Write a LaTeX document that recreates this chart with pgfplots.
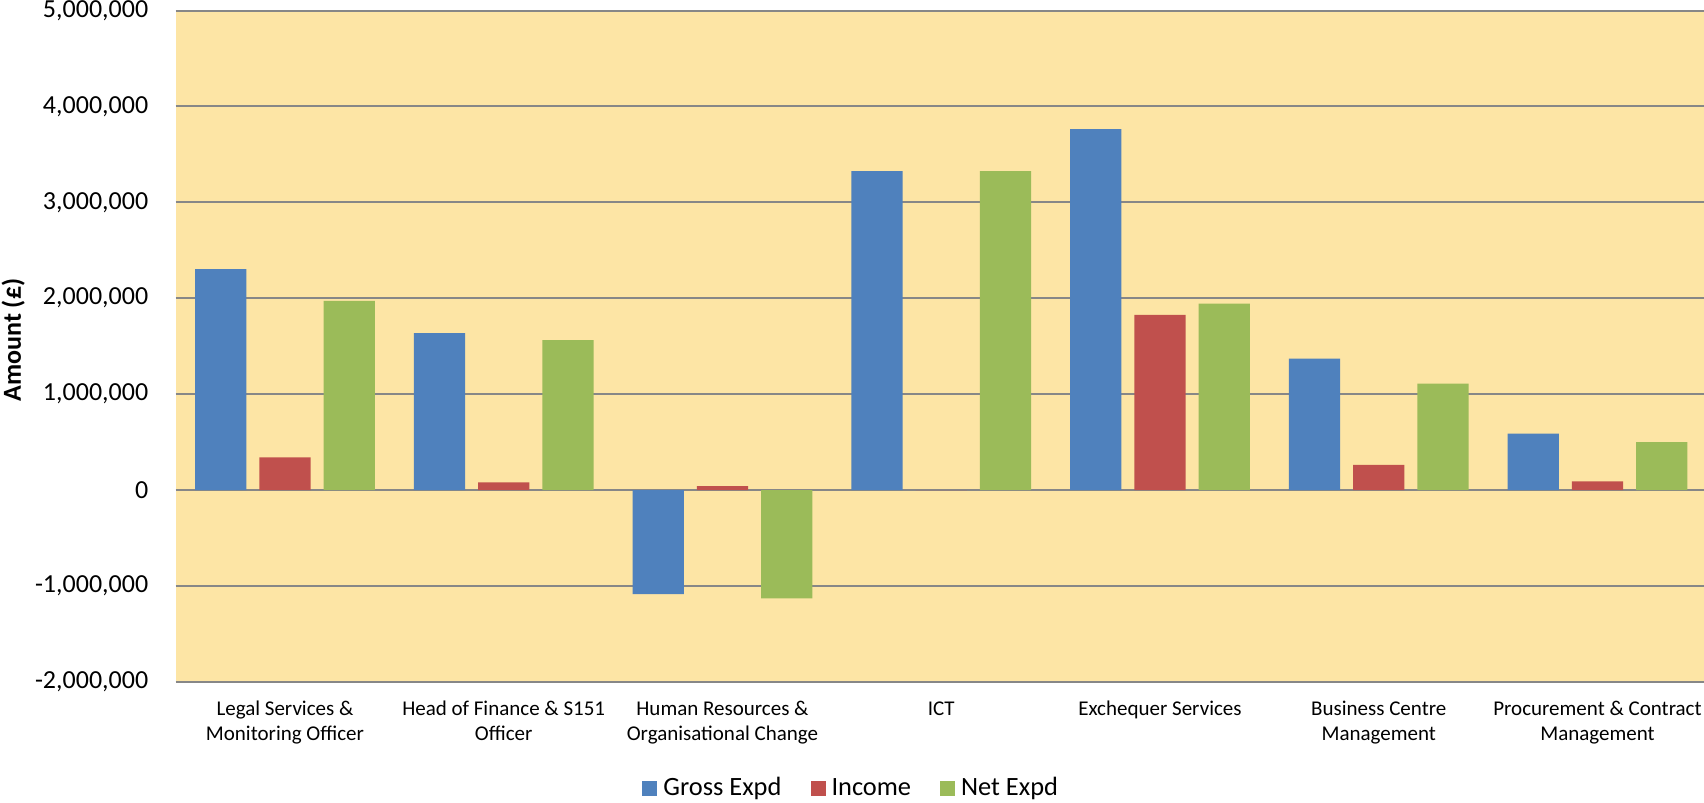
\documentclass[border=0pt]{standalone}
\usepackage{pgfplots}
\pgfplotsset{compat=1.18}
\usepackage{fontspec}
\setmainfont{Carlito}

\definecolor{grossblue}{HTML}{4F81BD}
\definecolor{incomered}{HTML}{C0504D}
\definecolor{netgreen}{HTML}{9BBB59}
\definecolor{plotbg}{HTML}{FDE5A5}
\definecolor{gridgray}{HTML}{878787}

\begin{document}
\begin{tikzpicture}
\begin{axis}[
  name=ax,
  scale only axis,
  width=764.2pt, height=335.65pt,
  xmin=-0.5, xmax=6.487,
  ymin=-2000000, ymax=5000000,
  axis background/.style={fill=plotbg},
  axis line style={draw=none},
  major tick length=0pt,
  ymajorgrids,
  major grid style={color=gridgray, line width=1pt},
  scaled y ticks=false,
  ytick={-2000000,-1000000,0,1000000,2000000,3000000,4000000,5000000},
  yticklabels={{-2,000,000},{-1,000,000},{0},{1,000,000},{2,000,000},{3,000,000},{4,000,000},{5,000,000}},
  yticklabel style={font=\fontsize{13}{15.6}\selectfont, anchor=east, inner sep=0pt},
  yticklabel shift=13.5pt,
  xtick={0,1,2,3,4,5,6},
  xticklabels={
    {Legal Services \&\\Monitoring Officer},
    {Head of Finance \& S151\\Officer},
    {Human Resources \&\\Organisational Change},
    {ICT},
    {Exchequer Services},
    {Business Centre\\Management},
    {Procurement \& Contract\\Management}},
  xticklabel style={font=\fontsize{10.5}{12.5}\selectfont, align=center, anchor=north, inner sep=0pt},
  xticklabel shift=9.6pt,
  ylabel={\textbf{Amount (£)}},
  ylabel style={font=\fontsize{13}{15.6}\selectfont, at={(axis description cs:-0.1062,0.509)}, anchor=center},
  ybar,
  bar width=0.2345,
  legend columns=3,
  legend style={
    at={(axis description cs:0.4424,-0.1597)}, anchor=center,
    draw=none, fill=none,
    font=\fontsize{13.2}{15.8}\selectfont,
    nodes={inner sep=1.5pt, text height=9.2pt, text depth=2.8pt},
    /tikz/every odd column/.append style={column sep=1.5pt},
    /tikz/every even column/.append style={column sep=13pt},
  },
  legend image code/.code={\fill[#1] (0pt,-3.4pt) rectangle (7.5pt,4.1pt);},
]
\addplot[fill=grossblue, draw=none, bar shift=-0.294] coordinates {
  (0,2304000) (1,1637000) (2,-1087000) (3,3326000) (4,3764000) (5,1369000) (6,588000)};
\addplot[fill=incomered, draw=none, bar shift=0] coordinates {
  (0,341000) (1,80000) (2,40000) (3,0) (4,1825000) (5,261000) (6,91000)};
\addplot[fill=netgreen, draw=none, bar shift=0.294] coordinates {
  (0,1971000) (1,1564000) (2,-1129000) (3,3326000) (4,1943000) (5,1108000) (6,498000)};
\legend{Gross Expd, Income, Net Expd}
\end{axis}
\pgfresetboundingbox
\useasboundingbox (-87.8pt,-60.6pt) rectangle (764.2pt,340.9pt);
\end{tikzpicture}
\end{document}
